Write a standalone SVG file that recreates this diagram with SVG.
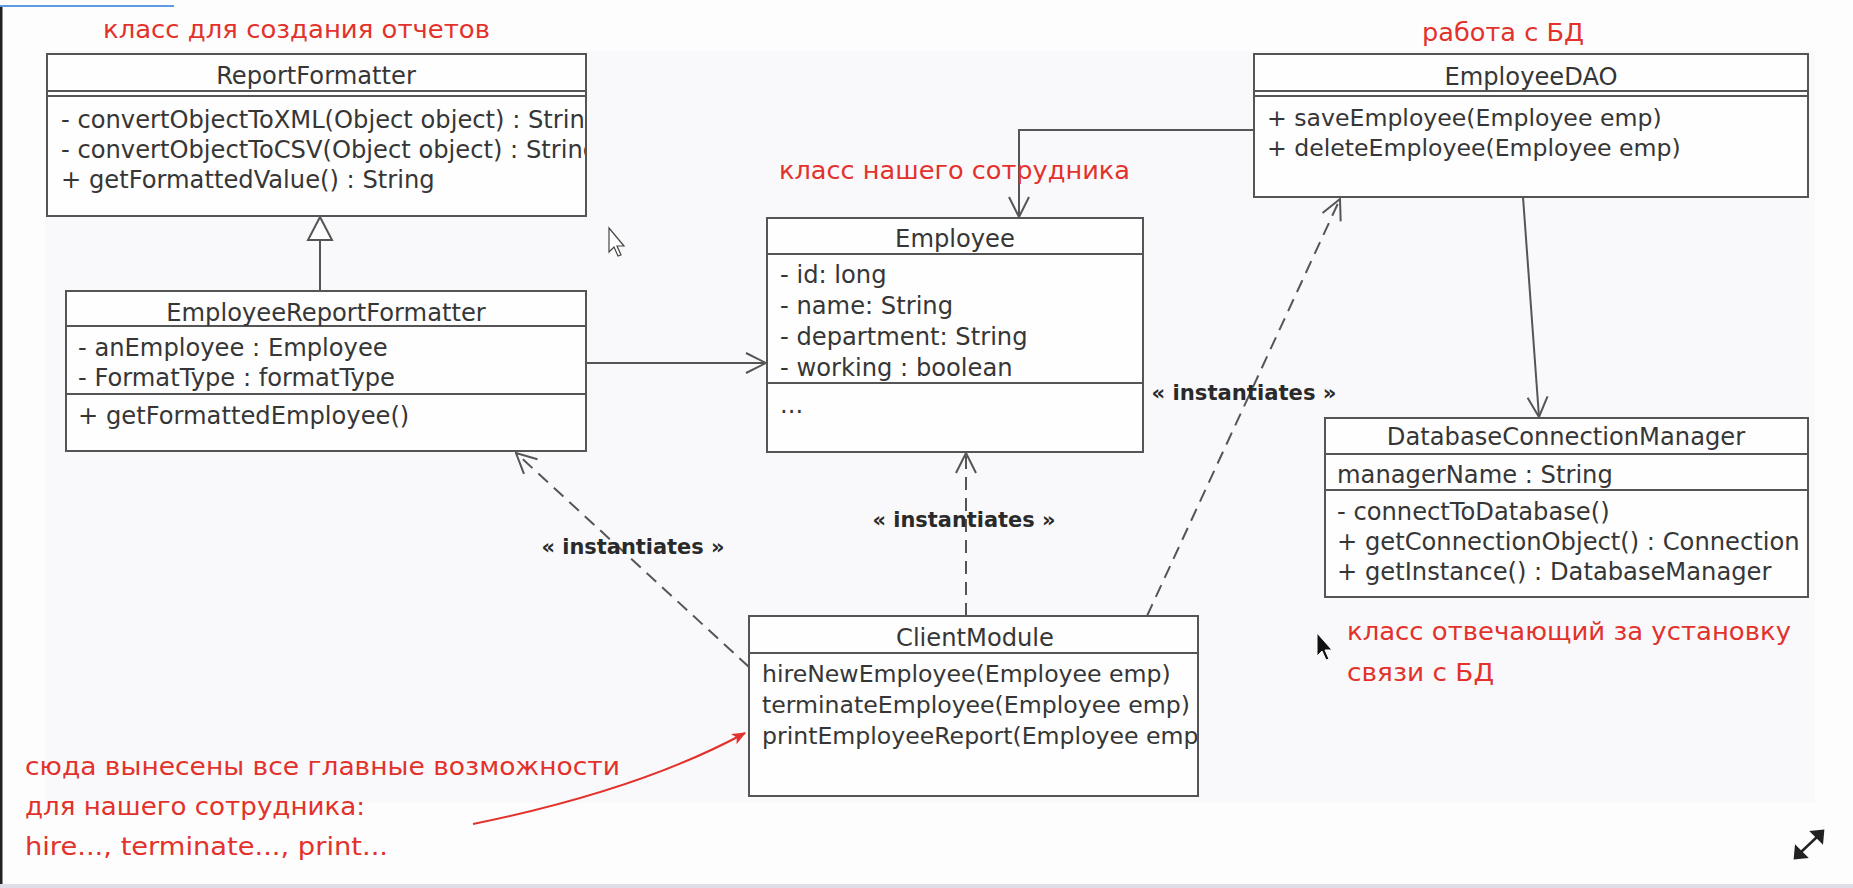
<svg xmlns="http://www.w3.org/2000/svg" width="1853" height="888" viewBox="0 0 1853 888">
<defs>
<style>
.box{fill:#fefefe;stroke:#555;stroke-width:2}
.sep{stroke:#555;stroke-width:2}
.t{font-family:"DejaVu Sans","Noto Sans",sans-serif;font-size:24.2px;fill:#363636}
.s{font-size:23.6px}
.c{text-anchor:middle}
.lbl{font-family:"DejaVu Sans","Noto Sans",sans-serif;font-weight:bold;font-size:21px;fill:#2a2a2a}
.note{font-family:"DejaVu Sans","Noto Sans",sans-serif;font-size:25px;fill:#e2322b}
.conn{stroke:#555;stroke-width:2;fill:none}
.dash{stroke-dasharray:13 8}
</style>
<marker id="open" viewBox="0 0 22 22" refX="21" refY="11" markerWidth="22" markerHeight="22" markerUnits="userSpaceOnUse" orient="auto">
<path d="M1,1 L21,11 L1,21" fill="none" stroke="#555" stroke-width="2"/>
</marker>
<marker id="red" viewBox="0 0 12 12" refX="11" refY="6" markerWidth="14" markerHeight="14" markerUnits="userSpaceOnUse" orient="auto">
<path d="M0,1 L12,6 L0,11 L3,6 Z" fill="#e2322b"/>
</marker>
<clipPath id="clipRF"><rect x="48" y="55" width="537" height="160"/></clipPath>
<clipPath id="clipCM"><rect x="750" y="617" width="447" height="178"/></clipPath>
</defs>

<rect x="0" y="0" width="1853" height="888" fill="#fdfdfe"/>
<rect x="45" y="51" width="1770" height="752" fill="#f9f9fb"/>
<line x1="1" y1="6" x2="1" y2="885" stroke="#222" stroke-width="3"/>
<line x1="0" y1="6" x2="174" y2="6" stroke="#5b9be0" stroke-width="2"/>
<rect x="0" y="884" width="1853" height="4" fill="#dedee6"/>

<g id="connectors">
<polygon points="320,217 308,240 332,240" fill="#fefefe" stroke="#555" stroke-width="2"/>
<line class="conn" x1="320" y1="240" x2="320" y2="291"/>
<line class="conn" x1="586" y1="363" x2="766" y2="363" marker-end="url(#open)"/>
<polyline class="conn" points="1254,130 1019,130 1019,217" marker-end="url(#open)"/>
<line class="conn" x1="1523" y1="197" x2="1539" y2="417" marker-end="url(#open)"/>
<line class="conn dash" x1="749" y1="667" x2="516" y2="453" marker-end="url(#open)"/>
<line class="conn dash" x1="966" y1="616" x2="966" y2="453" marker-end="url(#open)"/>
<line class="conn dash" x1="1147" y1="616" x2="1340" y2="199" marker-end="url(#open)"/>
<text class="lbl c" x="633" y="554" textLength="183" lengthAdjust="spacingAndGlyphs">« instantiates »</text>
<text class="lbl c" x="964" y="527" textLength="183" lengthAdjust="spacingAndGlyphs">« instantiates »</text>
<text class="lbl c" x="1244" y="400" textLength="185" lengthAdjust="spacingAndGlyphs">« instantiates »</text>
<path d="M473,824 Q640,790 745,733" fill="none" stroke="#e2322b" stroke-width="2" marker-end="url(#red)"/>
</g>

<g id="ReportFormatter">
<rect class="box" x="47" y="54" width="539" height="162"/>
<line class="sep" x1="47" y1="91" x2="586" y2="91"/>
<line class="sep" x1="47" y1="96" x2="586" y2="96"/>
<text class="t c" x="316" y="84">ReportFormatter</text>
<g clip-path="url(#clipRF)">
<text class="t" x="61" y="128">- convertObjectToXML(Object object) : String</text>
<text class="t" x="61" y="158">- convertObjectToCSV(Object object) : String</text>
<text class="t" x="61" y="188">+ getFormattedValue() : String</text>
</g>
</g>

<g id="EmployeeReportFormatter">
<rect class="box" x="66" y="291" width="520" height="160"/>
<line class="sep" x1="66" y1="326" x2="586" y2="326"/>
<line class="sep" x1="66" y1="394" x2="586" y2="394"/>
<text class="t c" x="326" y="321">EmployeeReportFormatter</text>
<text class="t" x="78" y="356">- anEmployee : Employee</text>
<text class="t" x="78" y="386">- FormatType : formatType</text>
<text class="t" x="78" y="424">+ getFormattedEmployee()</text>
</g>

<g id="Employee">
<rect class="box" x="767" y="218" width="376" height="234"/>
<line class="sep" x1="767" y1="254" x2="1143" y2="254"/>
<line class="sep" x1="767" y1="383" x2="1143" y2="383"/>
<text class="t c" x="955" y="247">Employee</text>
<text class="t" x="780" y="283">- id: long</text>
<text class="t" x="780" y="314">- name: String</text>
<text class="t" x="780" y="345">- department: String</text>
<text class="t" x="780" y="376">- working : boolean</text>
<text class="t" x="780" y="413">...</text>
</g>

<g id="EmployeeDAO">
<rect class="box" x="1254" y="54" width="554" height="143"/>
<line class="sep" x1="1254" y1="91" x2="1808" y2="91"/>
<line class="sep" x1="1254" y1="96" x2="1808" y2="96"/>
<text class="t c" x="1531" y="85">EmployeeDAO</text>
<text class="t s" x="1267" y="126">+ saveEmployee(Employee emp)</text>
<text class="t s" x="1267" y="156">+ deleteEmployee(Employee emp)</text>
</g>

<g id="DatabaseConnectionManager">
<rect class="box" x="1325" y="418" width="483" height="179"/>
<line class="sep" x1="1325" y1="454" x2="1808" y2="454"/>
<line class="sep" x1="1325" y1="490" x2="1808" y2="490"/>
<text class="t c" x="1566" y="445">DatabaseConnectionManager</text>
<text class="t" x="1337" y="483">managerName : String</text>
<text class="t" x="1337" y="520">- connectToDatabase()</text>
<text class="t" x="1337" y="550">+ getConnectionObject() : Connection</text>
<text class="t" x="1337" y="580">+ getInstance() : DatabaseManager</text>
</g>

<g id="ClientModule">
<rect class="box" x="749" y="616" width="449" height="180"/>
<line class="sep" x1="749" y1="653" x2="1198" y2="653"/>
<text class="t c" x="975" y="646">ClientModule</text>
<g clip-path="url(#clipCM)">
<text class="t s" x="762" y="682">hireNewEmployee(Employee emp)</text>
<text class="t s" x="762" y="713">terminateEmployee(Employee emp)</text>
<text class="t s" x="762" y="744">printEmployeeReport(Employee emp)</text>
</g>
</g>

<g id="notes">
<text class="note" x="103" y="38" textLength="387" lengthAdjust="spacingAndGlyphs">класс для создания отчетов</text>
<text class="note" x="1422" y="41" textLength="162" lengthAdjust="spacingAndGlyphs">работа с БД</text>
<text class="note" x="779" y="179" textLength="351" lengthAdjust="spacingAndGlyphs">класс нашего сотрудника</text>
<text class="note" x="1347" y="640" textLength="444" lengthAdjust="spacingAndGlyphs">класс отвечающий за установку</text>
<text class="note" x="1347" y="681" textLength="147" lengthAdjust="spacingAndGlyphs">связи с БД</text>
<text class="note" x="25" y="775" textLength="595" lengthAdjust="spacingAndGlyphs">сюда вынесены все главные возможности</text>
<text class="note" x="25" y="815" textLength="340" lengthAdjust="spacingAndGlyphs">для нашего сотрудника:</text>
<text class="note" x="25" y="855" textLength="363" lengthAdjust="spacingAndGlyphs">hire..., terminate..., print...</text>
</g>

<g id="cursors">
<path d="M609,228 L609,252 L614,247 L618,256 L621,255 L617,246 L624,246 Z" fill="#fff" stroke="#444" stroke-width="1.2"/>
<path d="M1317,633 L1317,656 L1322,651 L1326,660 L1329,659 L1325,650 L1332,650 Z" fill="#111" stroke="#fff" stroke-width="1"/>
<g stroke="#222" stroke-width="2.5" fill="#222">
<line x1="1800" y1="853" x2="1818" y2="836"/>
<path d="M1795,858 L1796,847 L1806,857 Z"/>
<path d="M1823,831 L1822,842 L1812,832 Z"/>
</g>
</g>
</svg>
